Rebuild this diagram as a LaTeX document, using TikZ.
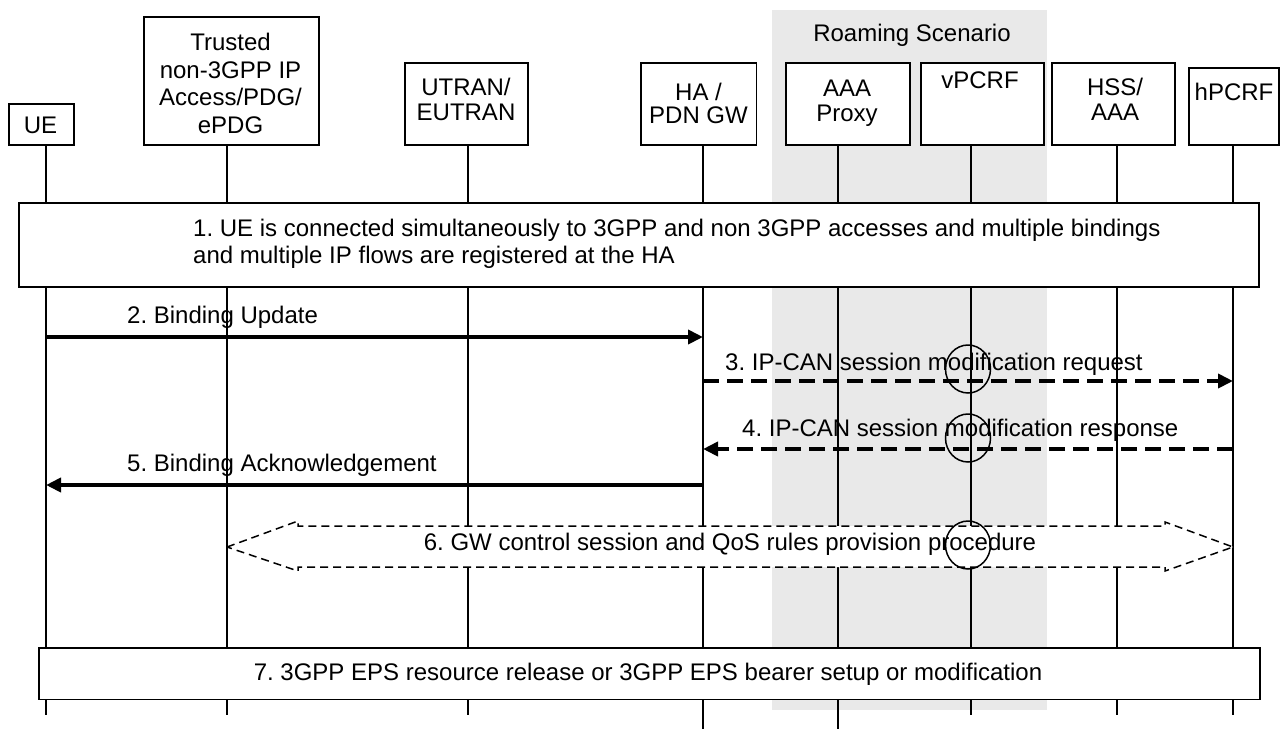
\documentclass[tikz,border=0pt]{standalone}
\usepackage{fontspec}
\setmainfont{Liberation Sans}
\usetikzlibrary{arrows.meta,shapes.geometric}
\definecolor{roam}{RGB}{233,233,233}
\frenchspacing
\begin{document}
\frenchspacing
\begin{tikzpicture}[x=1pt,y=-1pt,
  entbox/.style={draw=black, line width=1.8pt, fill=white, inner sep=0pt, anchor=north west},
  life/.style={line width=1.5pt},
  txt/.style={font=\fontsize{24}{25}\selectfont, inner sep=0pt, align=center, anchor=base},
  lbl/.style={font=\fontsize{24}{27}\selectfont, inner sep=0pt, anchor=base west},
  msg/.style={line width=4pt, -{Triangle[length=15pt,width=14pt]}},
  dmsg/.style={msg, dash pattern=on 16pt off 8pt},
  hl/.style={draw, ellipse, line width=1.5pt, minimum width=45pt, minimum height=48pt, inner sep=0pt}
]
\useasboundingbox (0,0) rectangle (1281,729);
% roaming area
\fill[roam] (772,10) rectangle (1047,710);
\node[txt] (roamtxt) at (912,41.5) {Roaming Scenario};

% lifeline coordinates
\coordinate (lUE) at (46,144);   \coordinate (eUE) at (46,715);
\coordinate (lTN) at (227,144);  \coordinate (eTN) at (227,715);
\coordinate (lUT) at (468,144);  \coordinate (eUT) at (468,715);
\coordinate (lHA) at (703,144);  \coordinate (eHA) at (703,729);
\coordinate (lAP) at (838,144);  \coordinate (eAP) at (838,729);
\coordinate (lVP) at (971,144);  \coordinate (eVP) at (971,715);
\coordinate (lHS) at (1117,144); \coordinate (eHS) at (1117,715);
\coordinate (lHP) at (1233,144); \coordinate (eHP) at (1233,715);
\foreach \a/\b in {lUE/eUE,lTN/eTN,lUT/eUT,lHA/eHA,lAP/eAP,lVP/eVP,lHS/eHS,lHP/eHP}
  \draw[life] (\a) -- (\b);

% entity boxes
\node[entbox, minimum width=65pt, minimum height=41pt] (ue) at (8,103) {};
\node[entbox, minimum width=175pt, minimum height=128pt] (tn) at (143,16) {};
\node[entbox, minimum width=123pt, minimum height=82pt] (ut) at (404,62) {};
\node[entbox, minimum width=115.5pt, minimum height=82pt] (ha) at (640,62) {};
\node[entbox, minimum width=124pt, minimum height=82pt] (ap) at (785,62) {};
\node[entbox, minimum width=123pt, minimum height=82pt] (vp) at (920,62) {};
\node[entbox, minimum width=123pt, minimum height=82pt] (hs) at (1051,62) {};
\node[entbox, minimum width=90pt, minimum height=77pt] (hp) at (1188,67) {};

% (base anchor of a multi-line node = baseline of its last line)
\node[txt] (uet) at (40.5,133.5) {UE};
\node[txt, font=\fontsize{24}{27.7}\selectfont] (tnt) at (230.5,133.6) {Trusted\\non-3GPP IP\\Access/PDG/\\ePDG};
\node[txt] (utt) at (466,120.5) {UTRAN/\\EUTRAN};
\node[txt, font=\fontsize{24}{23.5}\selectfont] (hat) at (698.5,123.5) {HA /\\PDN GW};
\node[txt] (apt) at (847,121.5) {AAA\\Proxy};
\node[txt] (vpt) at (980,88.5) {vPCRF};
\node[txt] (hst) at (1115,120.5) {HSS/\\AAA};
\node[txt] (hpt) at (1234,100.5) {hPCRF};

% step 1
\node[entbox, minimum width=1240pt, minimum height=84pt] (b1) at (18,202) {};
\node[lbl, align=left] (b1t) at (193,263.5) {1. UE is connected simultaneously to 3GPP and non 3GPP accesses and multiple bindings\\and multiple IP flows are registered at the HA};

% message rows
\coordinate (m2) at (0,337);
\coordinate (m3) at (0,381);
\coordinate (m4) at (0,449);
\coordinate (m5) at (0,485);

\node[lbl] (l2) at (127,323) {2. Binding Update};
\draw[msg] (lUE |- m2) -- (lHA |- m2);
\node[lbl] (l3) at (725,370.5) {3. IP-CAN session modification request};
\draw[dmsg] (lHA |- m3) -- (lHP |- m3);
\node[lbl] (l4) at (742,436) {4. IP-CAN session modification response};
\draw[dmsg] (lHP |- m4) -- (lHA |- m4);
\node[lbl] (l5) at (127,471.5) {5. Binding Acknowledgement};
\draw[msg] (lHA |- m5) -- (lUE |- m5);

% step 6 double arrow
\coordinate (m6) at (0,547);
\draw[line width=1.5pt, dash pattern=on 8pt off 5pt, fill=white]
  (lTN |- m6) -- (298,521) -- (298,526) -- (1165,526) -- (1165,522) -- (lHP |- m6)
  -- (1165,571) -- (1165,567) -- (298,567) -- (298,571) -- cycle;
\node[txt] (l6) at (730,550) {6. GW control session and QoS rules provision procedure};

% highlight circles
\node[hl] (c1) at (968,369) {};
\node[hl] (c2) at (968,438) {};
\node[hl] (c3) at (968,545) {};

% step 7
\node[entbox, minimum width=1221pt, minimum height=51.5pt] (b7) at (38,647) {};
\node[txt] (b7t) at (648,680.5) {7. 3GPP EPS resource release or 3GPP EPS bearer setup or modification};
\end{tikzpicture}
\end{document}
